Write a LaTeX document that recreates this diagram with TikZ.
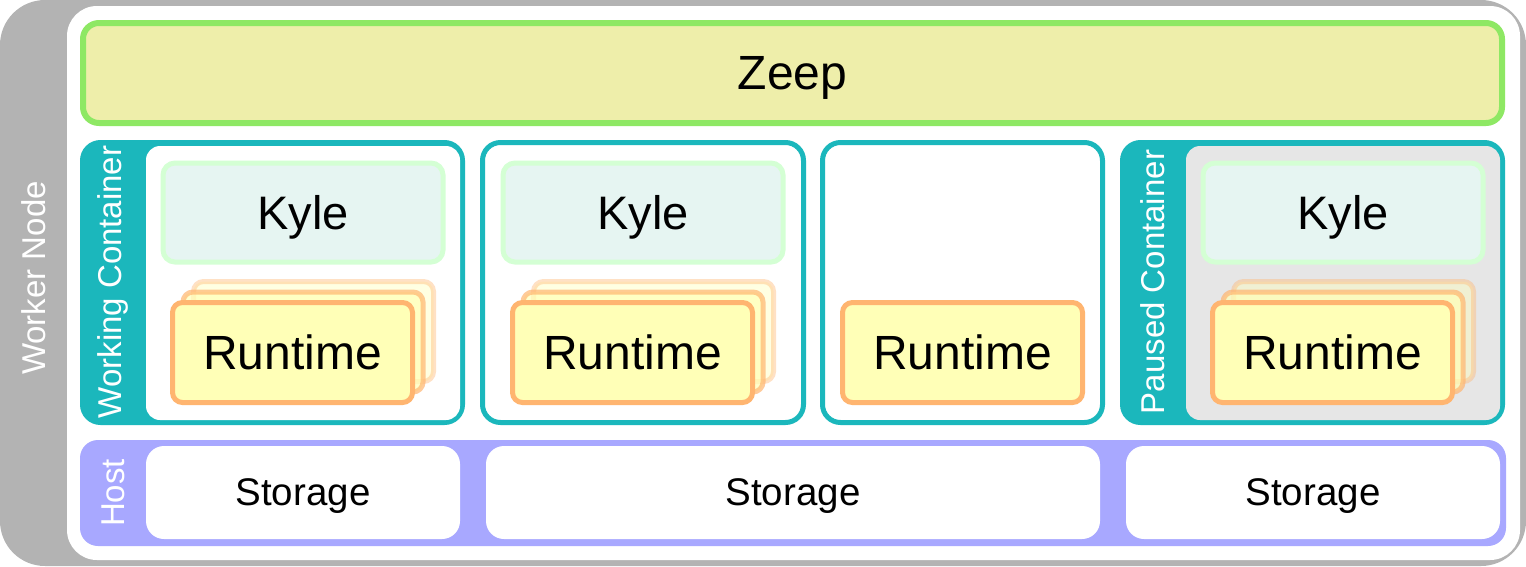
\documentclass[tikz,border=0pt]{standalone}
\usepackage{fontspec}
\setmainfont{Liberation Sans}
\usetikzlibrary{positioning,calc}
\definecolor{workercolor}{RGB}{179,179,179}
\definecolor{zeepline}{RGB}{142,232,100}
\definecolor{zeepfill}{RGB}{238,238,170}
\definecolor{containercolor}{RGB}{27,183,188}
\definecolor{pausedcolor}{RGB}{230,230,230}
\definecolor{kyleline}{RGB}{212,255,212}
\definecolor{kylefill}{RGB}{230,245,242}
\definecolor{runtimeline}{RGB}{255,181,112}
\definecolor{runtimefill}{RGB}{255,255,183}
\definecolor{hostcolor}{RGB}{168,168,255}

\begin{document}
\begin{tikzpicture}[
    x=1pt, y=-1pt,
    area/.style={rectangle, inner sep=0pt, outer sep=0pt, rounded corners=#1},
    area/.default=16pt,
    zeepbox/.style={area, draw=zeepline, fill=zeepfill, line width=6pt, minimum width=1419pt, minimum height=100pt, text depth=0pt, font=\fontsize{48}{57}\selectfont},
    container/.style={area=18pt, draw=containercolor, line width=5pt, minimum width=#1, minimum height=280pt},
    inside/.style={area=14pt, minimum width=314pt, minimum height=274pt},
    kylebox/.style={area=12pt, draw=kyleline, fill=kylefill, line width=5pt, minimum width=280pt, minimum height=99pt, text depth=0pt, font=\fontsize{47}{56}\selectfont},
    runtimebox/.style={area=10pt, draw=runtimeline, fill=runtimefill, line width=5pt, minimum width=240pt, minimum height=100pt, font=\fontsize{48}{57}\selectfont},
    ghost/.style={runtimebox, draw opacity=#1, fill opacity=#1},
    storagebox/.style={area=18pt, fill=white, minimum height=93pt, text depth=0pt, font=\fontsize{38.5}{46}\selectfont},
    vlabel/.style={rotate=90, text=white, inner sep=0pt, font=\fontsize{33}{40}\selectfont}
]
    \useasboundingbox (0,0) rectangle (1526,566);

    % Worker node
    \node[area=45pt, fill=workercolor, minimum width=1526pt, minimum height=566pt] (worker) at (763,283) {};
    \node[area=30pt, fill=white, minimum width=1453pt, minimum height=554pt] (panel) at (793.5,283) {};
    \node[vlabel] (workerlabel) at (33.5,278) {Worker Node};

    \node[zeepbox] (zeep) at (792.5,73) {Zeep};

    % Containers
    \node[container=380pt, fill=containercolor] (working) at (272.5,282.5) {};
    \node[inside, fill=white] (workinginside) at (303,283) {};
    \node[vlabel] (workinglabel) at (113,282) {Working Container};
    \node[container=321pt, fill=white] (second) at (643,282.5) {};
    \node[container=280pt, fill=white] (third) at (962.5,282.5) {};
    \node[container=380pt, fill=containercolor] (paused) at (1312.5,282.5) {};
    \node[inside, fill=pausedcolor] (pausedinside) at (1343,283) {};
    \node[vlabel] (pausedlabel) at (1153,282) {Paused Container};

    \node[kylebox] (kyle1) at (303,212.5) {Kyle};
    \node[kylebox] (kyle2) at (643,212.5) {Kyle};
    \node[kylebox] (kyle4) at (1343,212.5) {Kyle};

    % Runtime stacks
    \node[ghost=0.4] (runtime1c) at (313.5,331.5) {};
    \node[ghost=0.7] (runtime1b) at (303,342) {};
    \node[runtimebox] (runtime1) at (292.5,352.5) {Runtime};
    \node[ghost=0.4] (runtime2c) at (653.5,331.5) {};
    \node[ghost=0.7] (runtime2b) at (643,342) {};
    \node[runtimebox] (runtime2) at (632.5,352.5) {Runtime};
    \node[runtimebox] (runtime3) at (962.5,352.5) {Runtime};
    \node[ghost=0.4] (runtime4c) at (1353.5,331.5) {};
    \node[ghost=0.7] (runtime4b) at (1343,342) {};
    \node[runtimebox] (runtime4) at (1332.5,352.5) {Runtime};

    % Host
    \node[area=18pt, fill=hostcolor, minimum width=1426pt, minimum height=106pt] (host) at (793,493) {};
    \node[vlabel] (hostlabel) at (113,493) {Host};
    \node[storagebox, minimum width=314pt] (storage1) at (303,492.5) {Storage};
    \node[storagebox, minimum width=614pt] (storage2) at (793,492.5) {Storage};
    \node[storagebox, minimum width=374pt] (storage3) at (1313,492.5) {Storage};
\end{tikzpicture}
\end{document}
